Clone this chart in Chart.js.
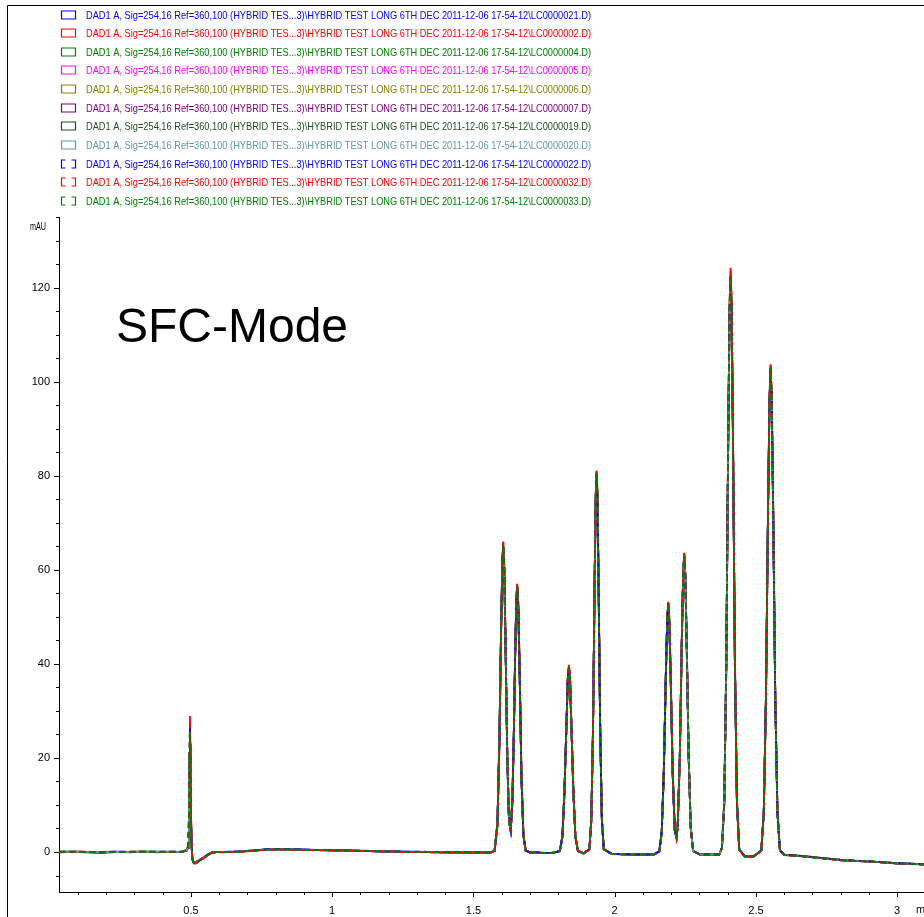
<!DOCTYPE html>
<html>
<head>
<meta charset="utf-8">
<script src="https://cdn.jsdelivr.net/npm/chart.js@4/dist/chart.umd.min.js"></script>
<style>
  html, body { margin: 0; padding: 0; background: #fff; }
  canvas { display: block; }
</style>
</head>
<body>
<canvas id="chromatogram" width="924" height="917"></canvas>
<script>
// retention time (min), shared by all runs
const retentionTime = [
  0.035, 0.08, 0.13, 0.18, 0.23, 0.28, 0.33, 0.38, 0.43, 0.47,
  0.485, 0.490, 0.493, 0.495, 0.4965, 0.498, 0.500, 0.502, 0.505, 0.510, 0.518, 0.530, 0.545, 0.560, 0.575, 0.590,
  0.62, 0.67, 0.72, 0.77, 0.82, 0.88, 0.95, 1.02, 1.10, 1.18, 1.26, 1.34, 1.42, 1.50, 1.56,
  1.575, 1.585, 1.592, 1.598, 1.6025, 1.6055, 1.609, 1.614, 1.620, 1.626, 1.632, 1.638, 1.643, 1.648, 1.652, 1.655, 1.659, 1.664, 1.670, 1.677, 1.685, 1.70, 1.74, 1.78,
  1.806, 1.815, 1.822, 1.830, 1.834, 1.838, 1.842, 1.846, 1.854, 1.861, 1.870, 1.89,
  1.9105, 1.9173, 1.9233, 1.9292, 1.933, 1.936, 1.939, 1.9428, 1.9488, 1.9547, 1.9615, 1.99, 2.04, 2.09, 2.14,
  2.158, 2.1665, 2.1738, 2.1812, 2.1859, 2.1896, 2.1933, 2.198, 2.2054, 2.2127, 2.219, 2.2231, 2.2305, 2.2378, 2.2425, 2.2462, 2.2499, 2.2546, 2.262, 2.2693, 2.2777, 2.30, 2.34, 2.37,
  2.3798, 2.388, 2.3951, 2.4022, 2.4068, 2.4104, 2.414, 2.4186, 2.4257, 2.4328, 2.441, 2.46, 2.49,
  2.519, 2.5278, 2.5355, 2.5432, 2.5482, 2.552, 2.5559, 2.5608, 2.5685, 2.5762, 2.585, 2.60, 2.65, 2.70, 2.75, 2.80, 2.85, 2.90, 2.95, 3.00, 3.05, 3.095
];

// DAD1 A signal (mAU), one list per injection
const lc21 = [
  0.1, 0.05, -0.05, 0, 0.1, 0.05, 0, 0.1, 0, 0.05,
  0.3, 1.0, 7, 20, 27, 20, 8.5, 2, -1.4, -2.2, -2.1, -1.7, -1.1, -0.5, 0, 0.05,
  0.05, 0.15, 0.35, 0.6, 0.65, 0.55, 0.45, 0.3, 0.3, 0.1, 0.1, 0.05, 0, -0.05, -0.15,
  0.3, 6.1, 24.4, 47.6, 61.6, 65, 60.5, 42.6, 19.8, 6.4, 4.6, 11.2, 25.3, 43, 53.6, 56, 51.6, 36.8, 15.9, 3.4, 0.3, -0.1, -0.15, -0.25,
  0.2, 3.4, 12.8, 28.5, 36.6, 39, 36.6, 28.3, 12.5, 3.2, 0.2, -0.3,
  0.6, 7.0, 26.2, 58.4, 75.4, 80.2, 75.4, 58.2, 25.8, 6.8, 0.5, -0.45, -0.5, -0.6, -0.45,
  0.1, 4.3, 16.9, 37.9, 49, 52.5, 49, 37.8, 16.6, 4.5, 3.1, 5.6, 20.4, 45.6, 58.9, 63, 58.9, 45.4, 20, 5.1, 0.2, -0.45, -0.6, -0.5,
  0.9, 10.8, 40.3, 89.5, 114.5, 121.5, 114.5, 89.2, 39.8, 10.5, 0.5, -0.85, -1.05,
  0.3, 8.5, 33.1, 74.2, 95.9, 102.5, 95.9, 74, 32.7, 8.3, 0.3, -0.55, -0.75, -1.15, -1.35, -1.75, -1.85, -2.05, -2.15, -2.45, -2.45, -2.65
];
const lc02 = [
  -0.05, 0.1, 0.05, -0.1, 0, 0.05, 0.1, -0.05, 0.1, 0.05,
  0.3, 0.9, 6.5, 21, 28.9, 23, 10, 2.5, -1.3, -2.4, -2.4, -1.9, -1.3, -0.7, -0.15, 0,
  0, 0.05, 0.25, 0.5, 0.6, 0.45, 0.4, 0.4, 0.2, 0.2, 0, 0, -0.1, -0.1, -0.05,
  0.2, 5.2, 22.5, 46.5, 61.8, 66, 62, 44.5, 21, 7, 4.2, 10.2, 24, 42.2, 53.8, 57, 53, 38.5, 17, 3.9, 0.4, -0.1, -0.25, -0.2,
  0.15, 3.0, 12, 28, 37, 39.8, 37.6, 29.4, 13.2, 3.6, 0.3, -0.3,
  0.5, 6.3, 25, 57.8, 76, 81.1, 76.8, 59.6, 27, 7.4, 0.7, -0.35, -0.55, -0.5, -0.55,
  0.05, 3.9, 16, 37.2, 49.4, 53.2, 50, 39, 17.4, 4.8, 2.9, 5.2, 19.5, 45, 59.4, 63.6, 59.8, 46.6, 21, 5.5, 0.3, -0.55, -0.5, -0.6,
  0.8, 10, 38.8, 89, 117, 124.2, 117.8, 91.4, 41.3, 11.2, 0.6, -0.95, -1.1,
  0.25, 8, 32, 73.8, 97, 103.7, 97.6, 75.6, 33.9, 8.8, 0.4, -0.65, -0.85, -1.05, -1.45, -1.65, -1.95, -1.95, -2.25, -2.35, -2.55, -2.6
];
const lc04 = [
  0.05, 0.1, 0, -0.05, 0.05, -0.05, 0.1, 0.05, 0.05, 0.1,
  0.4, 1.3, 8.5, 21, 26, 19.5, 8.5, 1.8, -1.6, -2.3, -2.2, -1.8, -1.2, -0.6, -0.1, 0,
  0, 0.1, 0.3, 0.55, 0.6, 0.5, 0.4, 0.35, 0.25, 0.15, 0.05, 0, -0.05, -0.1, -0.1,
  0.35, 6.2, 24.5, 47.8, 62, 65.3, 60.8, 42.8, 19.7, 6.6, 5, 11.5, 25.4, 43.2, 54, 56.3, 51.8, 36.8, 15.8, 3.4, 0.3, -0.05, -0.2, -0.15,
  0.25, 3.4, 12.7, 28.6, 37, 39.3, 36.8, 28.3, 12.4, 3.2, 0.2, -0.25,
  0.6, 7.1, 26.4, 58.7, 75.8, 80.6, 75.6, 58.2, 25.7, 6.8, 0.6, -0.4, -0.45, -0.55, -0.5,
  0.15, 4.3, 16.8, 38.1, 49.3, 53, 49.3, 37.9, 16.5, 4.6, 3.4, 5.7, 20.4, 45.8, 59.2, 63.2, 59.1, 45.5, 20.1, 5.2, 0.2, -0.5, -0.5, -0.55,
  0.9, 10.7, 40.2, 90.2, 116, 122.5, 115.5, 89.4, 39.7, 10.5, 0.5, -0.9, -1.0,
  0.35, 8.5, 33, 74.6, 96.4, 103, 96.3, 74.2, 32.7, 8.3, 0.3, -0.6, -0.8, -1.1, -1.4, -1.7, -1.9, -2.0, -2.2, -2.4, -2.5, -2.6
];
const lc05 = [
  0, 0.05, 0.05, -0.1, 0, 0, 0.05, 0, 0.05, 0.05,
  0.3, 1.0, 6.5, 17, 22, 16.5, 7, 1.5, -1.4, -2.2, -2.1, -1.7, -1.1, -0.55, -0.1, 0,
  0, 0.1, 0.3, 0.5, 0.55, 0.5, 0.4, 0.3, 0.25, 0.15, 0.05, 0, -0.05, -0.1, -0.1,
  0.3, 5.9, 23.9, 47.2, 61.4, 64.8, 60.4, 42.6, 19.8, 6.4, 4.5, 11, 24.9, 42.8, 53.6, 56, 51.5, 36.7, 15.8, 3.4, 0.3, -0.1, -0.2, -0.2,
  0.2, 3.3, 12.5, 28.3, 36.6, 39, 36.5, 28.1, 12.4, 3.2, 0.2, -0.3,
  0.6, 6.8, 25.8, 58, 75.2, 80, 75.1, 57.8, 25.7, 6.8, 0.6, -0.4, -0.5, -0.55, -0.5,
  0.1, 4.2, 16.6, 37.7, 48.8, 52.3, 48.8, 37.6, 16.5, 4.5, 3, 5.4, 20, 45.3, 58.6, 62.8, 58.6, 45.2, 20, 5.1, 0.2, -0.5, -0.55, -0.55,
  0.9, 10.5, 39.6, 89, 114, 121, 114, 88.8, 39.5, 10.5, 0.5, -0.9, -1.0,
  0.3, 8.3, 32.6, 73.8, 95.6, 102.3, 95.6, 73.7, 32.6, 8.3, 0.3, -0.6, -0.8, -1.1, -1.4, -1.7, -1.9, -2.0, -2.2, -2.4, -2.5, -2.6
];
const lc06 = [
  0.05, 0.1, 0, -0.05, 0.05, 0, 0.1, 0, 0.05, 0.1,
  0.4, 1.1, 7.5, 19, 24, 18, 8, 1.8, -1.5, -2.3, -2.2, -1.8, -1.2, -0.6, -0.1, 0,
  0, 0.1, 0.3, 0.55, 0.6, 0.5, 0.4, 0.35, 0.25, 0.15, 0.05, 0, -0.05, -0.1, -0.1,
  0.3, 5.9, 24, 47.4, 61.8, 65.2, 60.8, 43, 20, 6.5, 4.5, 11, 25, 43, 54, 56.6, 52, 37, 16, 3.5, 0.3, -0.1, -0.2, -0.2,
  0.2, 3.3, 12.6, 28.5, 37, 39.4, 36.9, 28.5, 12.6, 3.3, 0.2, -0.3,
  0.6, 6.9, 26, 58.5, 75.8, 80.8, 75.8, 58.5, 26, 6.9, 0.6, -0.4, -0.5, -0.55, -0.5,
  0.1, 4.2, 16.7, 38, 49.2, 52.8, 49.2, 38, 16.7, 4.6, 3, 5.5, 20.2, 45.7, 59.2, 63.3, 59.2, 45.7, 20.2, 5.2, 0.2, -0.5, -0.55, -0.55,
  0.9, 10.6, 40, 90, 115, 122, 115, 90, 40, 10.6, 0.5, -0.9, -1.0,
  0.3, 8.4, 32.9, 74.5, 96.2, 102.8, 96.2, 74.5, 32.9, 8.4, 0.3, -0.6, -0.8, -1.1, -1.4, -1.7, -1.9, -2.0, -2.2, -2.4, -2.5, -2.6
];
const lc07 = [
  0, 0.05, 0, -0.1, 0.05, 0.05, 0.05, 0, 0, 0.1,
  0.3, 1.0, 7, 18, 23, 17.5, 7.5, 1.6, -1.5, -2.2, -2.2, -1.8, -1.2, -0.6, -0.1, 0,
  0, 0.1, 0.3, 0.5, 0.55, 0.5, 0.4, 0.35, 0.25, 0.1, 0.05, 0, -0.05, -0.1, -0.1,
  0.3, 5.8, 23.8, 47.1, 61.2, 64.6, 60.2, 42.5, 19.7, 6.4, 4.5, 10.9, 24.8, 42.6, 53.4, 55.8, 51.4, 36.6, 15.8, 3.4, 0.3, -0.1, -0.2, -0.2,
  0.2, 3.2, 12.4, 28.1, 36.4, 38.8, 36.4, 28.1, 12.4, 3.2, 0.2, -0.3,
  0.6, 6.8, 25.7, 57.8, 75, 79.8, 75, 57.8, 25.7, 6.8, 0.6, -0.4, -0.5, -0.55, -0.5,
  0.1, 4.1, 16.5, 37.5, 48.5, 52, 48.5, 37.5, 16.5, 4.5, 3, 5.4, 19.9, 45, 58.4, 62.5, 58.4, 45, 19.9, 5.1, 0.2, -0.5, -0.55, -0.55,
  0.9, 10.4, 39.3, 88.5, 113.5, 120.5, 113.5, 88.5, 39.3, 10.4, 0.5, -0.9, -1.0,
  0.3, 8.3, 32.5, 73.6, 95.4, 102, 95.4, 73.6, 32.5, 8.3, 0.3, -0.6, -0.8, -1.1, -1.4, -1.7, -1.9, -2.0, -2.2, -2.4, -2.5, -2.6
];
const lc19 = [
  0.05, 0.05, 0, -0.1, 0.05, 0, 0.1, 0.05, 0.05, 0.05,
  0.4, 1.2, 7.8, 20, 25, 19, 8.5, 1.9, -1.5, -2.3, -2.2, -1.8, -1.2, -0.6, -0.1, 0,
  0, 0.1, 0.3, 0.55, 0.6, 0.5, 0.4, 0.35, 0.25, 0.15, 0.05, 0, -0.05, -0.1, -0.1,
  0.3, 5.9, 24, 47.4, 61.6, 65, 60.6, 42.8, 19.9, 6.5, 4.5, 11, 25, 43, 53.8, 56.2, 51.7, 36.9, 15.9, 3.5, 0.3, -0.1, -0.2, -0.2,
  0.2, 3.3, 12.6, 28.4, 36.8, 39.2, 36.8, 28.4, 12.6, 3.3, 0.2, -0.3,
  0.6, 6.9, 26, 58.3, 75.6, 80.4, 75.6, 58.3, 26, 6.9, 0.6, -0.4, -0.5, -0.55, -0.5,
  0.1, 4.2, 16.7, 37.9, 49.1, 52.7, 49.1, 37.9, 16.7, 4.6, 3, 5.5, 20.1, 45.5, 59, 63, 59, 45.5, 20.1, 5.2, 0.2, -0.5, -0.55, -0.55,
  0.9, 10.6, 39.8, 89.6, 114.8, 121.8, 114.8, 89.6, 39.8, 10.6, 0.5, -0.9, -1.0,
  0.3, 8.4, 32.8, 74.2, 96.1, 102.6, 96.1, 74.2, 32.8, 8.4, 0.3, -0.6, -0.8, -1.1, -1.4, -1.7, -1.9, -2.0, -2.2, -2.4, -2.5, -2.6
];
const lc20 = [
  0, 0.1, 0.05, -0.05, 0, 0, 0.05, 0.05, 0.1, 0.05,
  0.4, 1.1, 7.6, 19.5, 24.5, 18.5, 8.2, 1.8, -1.5, -2.3, -2.2, -1.8, -1.2, -0.6, -0.1, 0,
  0, 0.1, 0.3, 0.55, 0.6, 0.5, 0.4, 0.35, 0.25, 0.15, 0.05, 0, -0.05, -0.1, -0.1,
  0.3, 5.9, 24, 47.3, 61.5, 64.9, 60.5, 42.7, 19.9, 6.5, 4.5, 11, 25, 42.9, 53.7, 56.1, 51.6, 36.8, 15.9, 3.5, 0.3, -0.1, -0.2, -0.2,
  0.2, 3.3, 12.5, 28.3, 36.7, 39.1, 36.7, 28.3, 12.5, 3.3, 0.2, -0.3,
  0.6, 6.9, 25.9, 58.2, 75.4, 80.2, 75.4, 58.2, 25.9, 6.9, 0.6, -0.4, -0.5, -0.55, -0.5,
  0.1, 4.2, 16.6, 37.8, 49, 52.6, 49, 37.8, 16.6, 4.6, 3, 5.5, 20.1, 45.4, 58.9, 62.9, 58.9, 45.4, 20.1, 5.2, 0.2, -0.5, -0.55, -0.55,
  0.9, 10.5, 39.7, 89.3, 114.3, 121.3, 114.3, 89.3, 39.7, 10.5, 0.5, -0.9, -1.0,
  0.3, 8.4, 32.7, 74.1, 95.9, 102.4, 95.9, 74.1, 32.7, 8.4, 0.3, -0.6, -0.8, -1.1, -1.4, -1.7, -1.9, -2.0, -2.2, -2.4, -2.5, -2.6
];
const lc22 = [
  0.1, 0, 0.05, -0.05, 0.1, 0, 0.05, 0.1, 0.05, 0.1,
  0.35, 1.1, 7.5, 20.5, 26.5, 20, 8.8, 2, -1.5, -2.3, -2.2, -1.8, -1.2, -0.6, -0.05, 0.05,
  0.05, 0.15, 0.3, 0.6, 0.65, 0.55, 0.45, 0.35, 0.3, 0.15, 0.1, 0.05, 0, -0.05, -0.1,
  0.35, 6.1, 24.3, 47.8, 62, 65.4, 60.8, 42.8, 19.8, 6.5, 4.7, 11.2, 25.2, 43.1, 54, 56.4, 51.8, 36.9, 15.9, 3.4, 0.3, -0.05, -0.15, -0.2,
  0.2, 3.4, 12.7, 28.6, 37, 39.3, 36.8, 28.3, 12.5, 3.2, 0.2, -0.25,
  0.6, 7.0, 26.2, 58.6, 75.7, 80.5, 75.5, 58.3, 25.8, 6.8, 0.6, -0.4, -0.45, -0.55, -0.45,
  0.15, 4.3, 16.8, 38, 49.3, 52.9, 49.2, 37.9, 16.6, 4.6, 3.1, 5.6, 20.3, 45.8, 59.2, 63.2, 59.1, 45.5, 20.1, 5.2, 0.25, -0.45, -0.5, -0.5,
  0.95, 10.8, 40.3, 90.3, 115.5, 122.3, 115.3, 89.6, 39.8, 10.5, 0.5, -0.85, -0.95,
  0.35, 8.5, 33.1, 74.6, 96.5, 103, 96.3, 74.2, 32.8, 8.3, 0.35, -0.55, -0.75, -1.05, -1.35, -1.65, -1.85, -2.0, -2.15, -2.35, -2.45, -2.55
];
const lc32 = [
  -0.05, 0.05, 0.1, -0.1, 0, 0.1, 0.05, -0.05, 0.05, 0.05,
  0.3, 0.9, 6.8, 20.5, 28, 22.5, 9.8, 2.4, -1.3, -2.4, -2.4, -1.9, -1.3, -0.7, -0.15, -0.05,
  -0.05, 0.05, 0.25, 0.5, 0.55, 0.45, 0.35, 0.4, 0.2, 0.15, 0, -0.05, -0.1, -0.15, -0.1,
  0.2, 5.4, 22.8, 46.8, 61.7, 65.8, 61.8, 44.2, 20.8, 6.9, 4.3, 10.4, 24.2, 42.4, 53.8, 56.8, 52.8, 38.2, 16.8, 3.8, 0.4, -0.1, -0.25, -0.25,
  0.15, 3.1, 12.1, 28.1, 36.9, 39.6, 37.4, 29.2, 13.1, 3.5, 0.3, -0.35,
  0.5, 6.4, 25.2, 57.9, 75.9, 80.9, 76.6, 59.4, 26.8, 7.3, 0.7, -0.4, -0.55, -0.55, -0.55,
  0.05, 3.9, 16.1, 37.3, 49.3, 53.1, 49.9, 38.8, 17.3, 4.8, 2.9, 5.3, 19.6, 45.1, 59.3, 63.5, 59.7, 46.4, 20.9, 5.4, 0.3, -0.55, -0.6, -0.6,
  0.8, 10.1, 39, 89.2, 116.6, 123.5, 117.2, 91, 41.1, 11.1, 0.6, -0.95, -1.1,
  0.25, 8.1, 32.2, 73.9, 96.9, 103.5, 97.4, 75.4, 33.7, 8.7, 0.4, -0.65, -0.85, -1.15, -1.45, -1.75, -1.95, -2.05, -2.25, -2.45, -2.55, -2.65
];
const lc33 = [
  0.05, 0.1, 0, -0.05, 0.05, 0.05, 0.1, 0, 0.1, 0.1,
  0.45, 1.3, 8.2, 20.5, 25.5, 19.2, 8.4, 1.9, -1.6, -2.3, -2.3, -1.8, -1.2, -0.6, -0.1, 0,
  0, 0.1, 0.3, 0.55, 0.6, 0.5, 0.4, 0.35, 0.25, 0.15, 0.05, 0, -0.05, -0.1, -0.1,
  0.35, 6.2, 24.4, 47.7, 61.7, 65.1, 60.6, 42.7, 19.8, 6.6, 4.9, 11.4, 25.3, 43.1, 53.9, 56.3, 51.7, 36.8, 15.8, 3.4, 0.3, -0.05, -0.2, -0.15,
  0.25, 3.4, 12.7, 28.5, 36.9, 39.2, 36.7, 28.3, 12.4, 3.2, 0.2, -0.25,
  0.6, 7.1, 26.3, 58.6, 75.7, 80.5, 75.5, 58.2, 25.7, 6.8, 0.6, -0.4, -0.45, -0.55, -0.5,
  0.15, 4.3, 16.8, 38, 49.2, 52.8, 49.2, 37.9, 16.5, 4.6, 3.3, 5.7, 20.3, 45.7, 59.1, 63.1, 59, 45.5, 20.1, 5.2, 0.2, -0.5, -0.5, -0.55,
  0.9, 10.7, 40.1, 90, 115.5, 122, 115.2, 89.4, 39.7, 10.5, 0.5, -0.9, -1.0,
  0.35, 8.5, 33, 74.5, 96.3, 102.9, 96.2, 74.2, 32.7, 8.3, 0.3, -0.6, -0.8, -1.1, -1.4, -1.7, -1.9, -2.0, -2.2, -2.4, -2.5, -2.6
];

const runFiles = ["LC0000021.D", "LC0000002.D", "LC0000004.D", "LC0000005.D", "LC0000006.D", "LC0000007.D",
                  "LC0000019.D", "LC0000020.D", "LC0000022.D", "LC0000032.D", "LC0000033.D"];
const runSignals = [lc21, lc02, lc04, lc05, lc06, lc07, lc19, lc20, lc22, lc32, lc33];
const runColors = ["#0000ff", "#ff0000", "#008000", "#ff00ff", "#808000", "#800080",
                   "#1f4f1f", "#5f9a9a", "#0000ff", "#ff0000", "#008000"];
const dashedRuns = [false, false, false, false, false, false, false, false, true, true, true];

const xTicksMinor = 0.1;
const yTicksMinor = 5;

const FONT = "'Liberation Sans', Arial, sans-serif";
const labelPrefix = "DAD1 A, Sig=254,16 Ref=360,100 (HYBRID TES...3)\\HYBRID TEST LONG 6TH DEC 2011-12-06 17-54-12\\";

const datasets = runSignals.map((vals, i) => ({
  label: labelPrefix + runFiles[i] + ")",
  data: retentionTime.map((t, k) => ({ x: t, y: vals[k] })),
  borderColor: runColors[i],
  borderWidth: 1.8,
  borderDash: dashedRuns[i] ? [6, 4] : [],
  pointRadius: 0,
  tension: 0,
  fill: false,
  order: runSignals.length - 1 - i,
}));

const frame = {
  id: "frame",
  beforeDraw(chart) {
    const { ctx } = chart;
    ctx.save();
    ctx.fillStyle = "#fff";
    ctx.fillRect(0, 0, chart.width, chart.height);
    ctx.strokeStyle = "#000";
    ctx.lineWidth = 1;
    ctx.beginPath();
    ctx.moveTo(7.5, chart.height);
    ctx.lineTo(7.5, 5.5);
    ctx.lineTo(chart.width, 5.5);
    ctx.stroke();
    ctx.restore();
  },
  afterDraw(chart) {
    const { ctx, chartArea } = chart;
    const xs = chart.scales.x, ys = chart.scales.y;
    ctx.save();
    // tick marks
    ctx.strokeStyle = "#000";
    ctx.lineWidth = 1;
    ctx.beginPath();
    xs.ticks.forEach((t) => {
      const px = Math.round(xs.getPixelForValue(t.value)) + 0.5;
      const major = Math.round(t.value / xTicksMinor) % 5 === 0;
      ctx.moveTo(px, chartArea.bottom);
      ctx.lineTo(px, chartArea.bottom + (major ? 5 : 3));
    });
    ys.ticks.forEach((t) => {
      const py = Math.round(ys.getPixelForValue(t.value)) + 0.5;
      const major = Math.round(t.value) % 20 === 0;
      ctx.moveTo(chartArea.left, py);
      ctx.lineTo(chartArea.left - (major ? 5 : 3), py);
    });
    ctx.stroke();

    // axis units
    ctx.fillStyle = "#000";
    ctx.font = "11px " + FONT;
    ctx.textBaseline = "middle";
    ctx.textAlign = "left";
    ctx.fillText("mAU", 30, 227, 16);
    ctx.fillText("min", 916, 910);

    // big annotation
    ctx.font = "48px " + FONT;
    ctx.textBaseline = "alphabetic";
    ctx.fillText("SFC-Mode", 116, 342);

    // legend
    ctx.font = "11px " + FONT;
    ctx.textBaseline = "middle";
    chart.data.datasets.forEach((ds, i) => {
      const y = Math.round(14.5 + 18.65 * i);
      ctx.strokeStyle = ds.borderColor;
      ctx.lineWidth = 1.2;
      const bx = 61.5, by = y - 4, bw = 14, bh = 8;
      ctx.beginPath();
      if (dashedRuns[i]) {
        ctx.moveTo(bx + 4, by); ctx.lineTo(bx, by); ctx.lineTo(bx, by + bh); ctx.lineTo(bx + 4, by + bh);
        ctx.moveTo(bx + bw - 4, by); ctx.lineTo(bx + bw, by); ctx.lineTo(bx + bw, by + bh); ctx.lineTo(bx + bw - 4, by + bh);
      } else {
        ctx.rect(bx, by, bw, bh);
      }
      ctx.stroke();
      ctx.fillStyle = ds.borderColor;
      ctx.fillText(ds.label, 86, y + 0.5, 505);
    });
    ctx.restore();
  },
};

new Chart(document.getElementById("chromatogram"), {
  type: "line",
  data: { datasets },
  options: {
    responsive: false,
    animation: false,
    layout: { padding: { top: 217, left: 0, right: 0, bottom: 0 } },
    plugins: { legend: { display: false }, tooltip: { enabled: false } },
    scales: {
      x: {
        type: "linear",
        min: 0.033,
        max: 3.095,
        afterFit(scale) { scale.height = 25; },
        grid: { display: false, drawTicks: false },
        border: { display: true, color: "#000", width: 1 },
        ticks: {
          stepSize: xTicksMinor,
          includeBounds: false,
          autoSkip: false,
          maxRotation: 0,
          padding: 12,
          color: "#000",
          font: { size: 11, family: FONT },
          callback(v) {
            const n = Math.round(v / xTicksMinor);
            return n % 5 === 0 ? String(n / 10) : "";
          },
        },
      },
      y: {
        min: -8.5,
        max: 135,
        afterFit(scale) { scale.width = 59; },
        grid: { display: false, drawTicks: false },
        border: { display: true, color: "#000", width: 1 },
        ticks: {
          stepSize: yTicksMinor,
          includeBounds: false,
          autoSkip: false,
          padding: 9,
          color: "#000",
          font: { size: 11, family: FONT },
          callback(v) {
            return Math.round(v) % 20 === 0 ? String(Math.round(v)) : "";
          },
        },
      },
    },
  },
  plugins: [frame],
});
</script>
</body>
</html>
